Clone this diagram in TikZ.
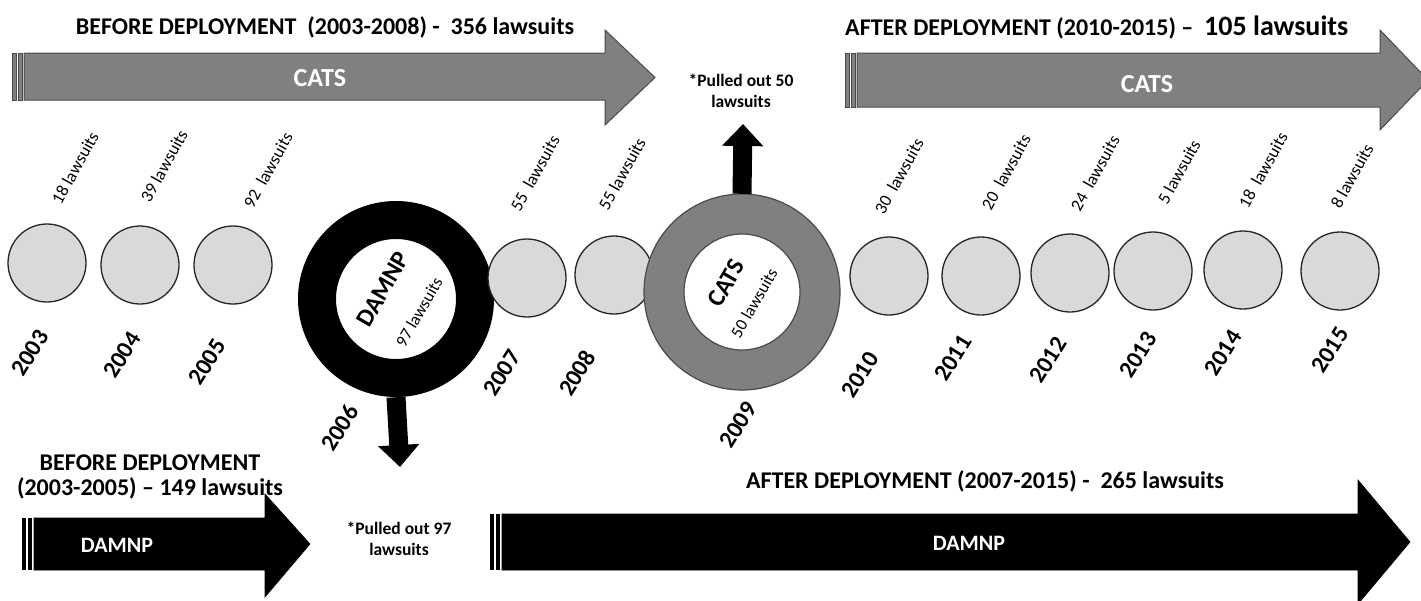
\documentclass[tikz,border=0pt]{standalone}
\usepackage{fontspec}
\setmainfont{Carlito}
\usetikzlibrary{arrows.meta}
\definecolor{catgray}{HTML}{808080}
\definecolor{catedge}{HTML}{4A4A4A}
\definecolor{dotfill}{HTML}{D9D9D9}
\begin{document}
\begin{tikzpicture}[x=1pt,y=-1pt,
  dot/.style={circle, draw=black!85, line width=1.3pt, fill=dotfill, minimum size=78pt, inner sep=0pt},
  yearlbl/.style={font=\fontsize{24}{26}\selectfont\bfseries, rotate=58, inner sep=0pt},
  lawlbl/.style={font=\fontsize{17.5}{20}\selectfont, rotate=61, inner sep=0pt},
  titlelbl/.style={font=\fontsize{24}{27}\selectfont\bfseries, inner sep=0pt},
  arrowlbl/.style={font=\fontsize{26}{28}\selectfont\bfseries, text=white, inner sep=0pt},
  pulled/.style={font=\fontsize{17.5}{21}\selectfont\bfseries, align=center, inner sep=0pt},
  ringname/.style={font=\fontsize{25}{27}\selectfont\bfseries, rotate=60, inner sep=0pt},
  ringlaw/.style={font=\fontsize{17}{19}\selectfont, rotate=60, inner sep=0pt},
  catsbody/.style={fill=catgray, draw=catedge, line width=1pt},
  damnpbody/.style={fill=black, draw=black, line width=0.6pt},
  blockarrow/.style={line width=19pt, -{Triangle[width=40pt,length=22pt]}},
]
\useasboundingbox (0,0) rectangle (1421,600);
\fill[white] (0,0) rectangle (1421,600);

% ---------- top CATS arrows ----------
\filldraw[catsbody] (12,53) rectangle (16,100);
\filldraw[catsbody] (18,53) rectangle (22,100);
\filldraw[catsbody] (24,53) -- (605,53) -- (605,30) -- (655,77.5) -- (605,125) -- (605,100) -- (24,100) -- cycle;
\node[arrowlbl] (cats1) at (320,78) {CATS};
\node[titlelbl] (title1) at (325,27) {BEFORE DEPLOYMENT\ \ (2003-2008) -\ \ 356 lawsuits};

\filldraw[catsbody] (845,53) rectangle (849,107);
\filldraw[catsbody] (851,53) rectangle (855,107);
\filldraw[catsbody] (857,53) -- (1380,53) -- (1380,30) -- (1428,80) -- (1380,130) -- (1380,107) -- (857,107) -- cycle;
\node[arrowlbl] (cats2) at (1147,84) {CATS};
\node[titlelbl, anchor=base west] (title2) at (845,35) {AFTER DEPLOYMENT (2010-2015) --\ \ {\fontsize{28}{30}\selectfont 105 lawsuits}};

% ---------- bottom DAMNP arrows ----------
\fill[black] (22,518) rectangle (26,570);
\fill[black] (28,518) rectangle (32,570);
\filldraw[damnpbody] (34,518) -- (265,518) -- (265,494) -- (310,544) -- (265,597) -- (265,570) -- (34,570) -- cycle;
\node[arrowlbl, font=\fontsize{22}{24}\selectfont\bfseries] (damnp1) at (117,545) {DAMNP};
\node[titlelbl, align=center, font=\fontsize{24}{25}\selectfont\bfseries] (title3) at (150,477) {BEFORE DEPLOYMENT\\(2003-2005) -- 149 lawsuits};

\fill[black] (490,514) rectangle (494,570);
\fill[black] (496,514) rectangle (500,570);
\filldraw[damnpbody] (502,514) -- (1358,514) -- (1358,480) -- (1410,542) -- (1358,604) -- (1358,570) -- (502,570) -- cycle;
\node[arrowlbl, font=\fontsize{22}{24}\selectfont\bfseries] (damnp2) at (969,543) {DAMNP};
\node[titlelbl] (title4) at (985,481) {AFTER DEPLOYMENT (2007-2015) -\ \ 265 lawsuits};

\node[pulled] (pulled97) at (399,539) {*Pulled out 97\\lawsuits};
\node[pulled] (pulled50) at (741,91) {*Pulled out 50\\lawsuits};

% ---------- circles row ----------
\node[dot] (c2003) at (47,263) {};
\node[dot] (c2004) at (140,265) {};
\node[dot] (c2005) at (233,265) {};

% DAMNP ring (2006)
\fill[black, even odd rule] (396,299) circle[radius=98] (396,299) circle[radius=60];
\node[circle, minimum size=196pt, inner sep=0pt] (r2006) at (396,299) {};
\node[ringname] (t2006a) at (383,289) {DAMNP};
\node[ringlaw] (t2006b) at (419,312) {97 lawsuits};

\node[dot] (c2007) at (527,278) {};
\node[dot] (c2008) at (614,275) {};

% CATS ring (2009)
\filldraw[fill=catgray, draw=catedge, line width=1.2pt, even odd rule] (742,292) circle[radius=98] (742,292) circle[radius=58];
\node[circle, minimum size=196pt, inner sep=0pt] (r2009) at (742,292) {};
\node[ringname] (t2009a) at (726,283) {CATS};
\node[ringlaw] (t2009b) at (754,303) {50 lawsuits};

\node[dot] (c2010) at (889,276) {};
\node[dot] (c2011) at (981,276) {};
\node[dot] (c2012) at (1070,273) {};
\node[dot] (c2013) at (1153,271) {};
\node[dot] (c2014) at (1243,270) {};
\node[dot] (c2015) at (1340,271) {};

% ---------- block arrows from rings ----------
\coordinate (up50) at (743,124);
\coordinate (down97) at (400,467);
\draw[blockarrow] (r2009.north) -- (up50);
\draw[blockarrow] (r2006.south) -- (down97);

% ---------- lawsuit labels ----------
\node[lawlbl] (l2003) at (75,168) {18 lawsuits};
\node[lawlbl] (l2004) at (164,166) {39 lawsuits};
\node[lawlbl] (l2005) at (268,170) {92\ \ lawsuits};
\node[lawlbl] (l2007) at (535,173) {55\ \ lawsuits};
\node[lawlbl] (l2008) at (622,174) {55 lawsuits};
\node[lawlbl] (l2010) at (899,176) {30\ \ lawsuits};
\node[lawlbl] (l2011) at (1006,172) {20\ \ lawsuits};
\node[lawlbl] (l2012) at (1095,173) {24\ \ lawsuits};
\node[lawlbl] (l2013) at (1179,172) {5 lawsuits};
\node[lawlbl] (l2014) at (1263,170) {18\ \ lawsuits};
\node[lawlbl] (l2015) at (1352,176) {8 lawsuits};

% ---------- year labels ----------
\node[yearlbl] (y2003) at (30,353) {2003};
\node[yearlbl] (y2004) at (122,355) {2004};
\node[yearlbl] (y2005) at (207,362) {2005};
\node[yearlbl] (y2006) at (340,428) {2006};
\node[yearlbl] (y2007) at (502,373) {2007};
\node[yearlbl] (y2008) at (577,373) {2008};
\node[yearlbl] (y2009) at (738,425) {2009};
\node[yearlbl] (y2010) at (860,375) {2010};
\node[yearlbl] (y2011) at (953,358) {2011};
\node[yearlbl] (y2012) at (1048,360) {2012};
\node[yearlbl] (y2013) at (1138,355) {2013};
\node[yearlbl] (y2014) at (1223,353) {2014};
\node[yearlbl] (y2015) at (1330,350) {2015};
\end{tikzpicture}
\end{document}
